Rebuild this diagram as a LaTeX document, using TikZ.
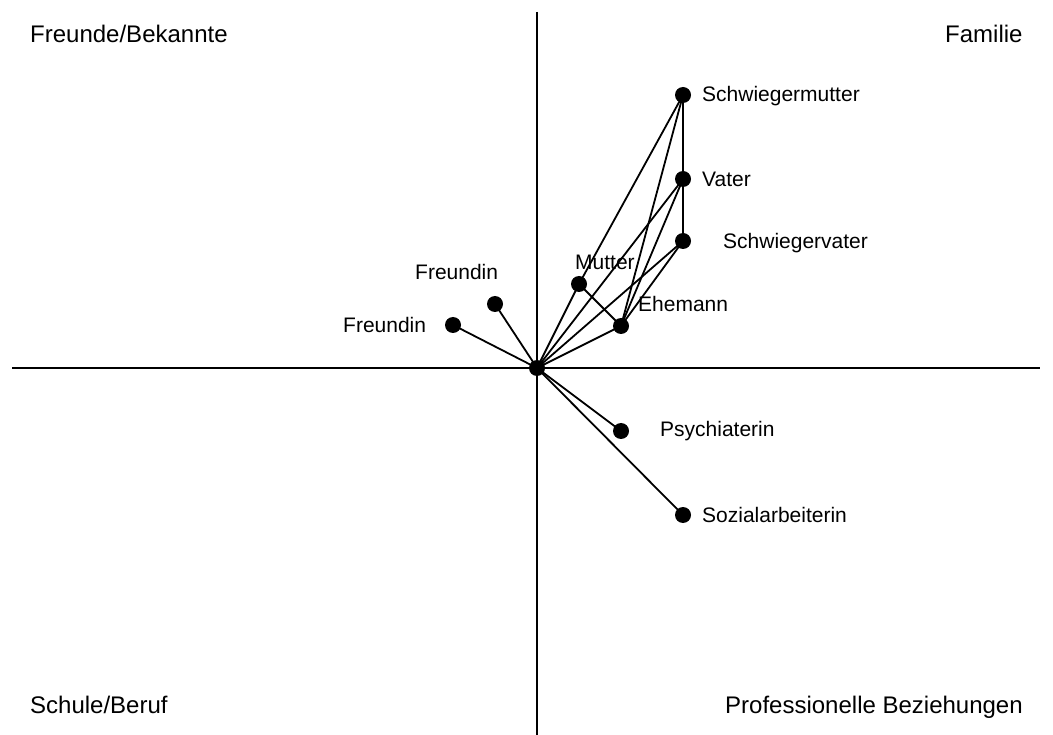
\documentclass[tikz,border=0pt]{standalone}
\usepackage{fontspec}
\setmainfont{Liberation Sans}
\begin{document}
\begin{tikzpicture}[x=1pt,y=-1pt,
  dot/.style={circle,fill=black,inner sep=0pt,minimum size=16pt},
  link/.style={line width=1.8pt},
  axis/.style={line width=1.5pt},
  quad/.style={anchor=base west,inner sep=0pt,font=\fontsize{24}{28}\selectfont},
  lbl/.style={anchor=base west,inner sep=0pt,font=\fontsize{21}{25}\selectfont}]
\useasboundingbox (0,0) rectangle (1053,735);

% axes
\coordinate (xl) at (12,368);
\coordinate (xr) at (1040,368);
\coordinate (yt) at (537,12);
\coordinate (yb) at (537,735);
\draw[axis] (xl) -- (xr);
\draw[axis] (yt) -- (yb);

% quadrant titles
\node[quad] (q1) at (30,43) {Freunde/Bekannte};
\node[quad] (q2) at (945,43) {Familie};
\node[quad] (q3) at (30,713) {Schule/Beruf};
\node[quad] (q4) at (725,713) {Professionelle Beziehungen};

% persons
\node[dot] (ego) at (537,368) {};
\node[dot] (sm)  at (683,95)  {};
\node[dot] (va)  at (683,179) {};
\node[dot] (sv)  at (683,241) {};
\node[dot] (mu)  at (579,284) {};
\node[dot] (eh)  at (621,326) {};
\node[dot] (fa)  at (495,304) {};
\node[dot] (fb)  at (453,325) {};
\node[dot] (ps)  at (621,431) {};
\node[dot] (so)  at (683,515) {};

% names
\node[lbl] (lsm) at (702,102) {Schwiegermutter};
\node[lbl] (lva) at (702,187) {Vater};
\node[lbl] (lsv) at (723,249) {Schwiegervater};
\node[lbl] (lmu) at (575,270) {Mutter};
\node[lbl] (leh) at (638,312) {Ehemann};
\node[lbl] (lfa) at (415,280) {Freundin};
\node[lbl] (lfb) at (343,333) {Freundin};
\node[lbl] (lps) at (660,437) {Psychiaterin};
\node[lbl] (lso) at (702,522) {Sozialarbeiterin};

% relations
\draw[link] (ego.center) -- (fa.center);
\draw[link] (ego.center) -- (fb.center);
\draw[link] (ego.center) -- (mu.center);
\draw[link] (ego.center) -- (va.center);
\draw[link] (ego.center) -- (sv.center);
\draw[link] (ego.center) -- (eh.center);
\draw[link] (ego.center) -- (ps.center);
\draw[link] (ego.center) -- (so.center);
\draw[link] (sm.center) -- (mu.center);
\draw[link] (sm.center) -- (eh.center);
\draw[link] (sm.center) -- (va.center);
\draw[link] (va.center) -- (sv.center);
\draw[link] (va.center) -- (eh.center);
\draw[link] (sv.center) -- (eh.center);
\draw[link] (mu.center) -- (eh.center);
\end{tikzpicture}
\end{document}
